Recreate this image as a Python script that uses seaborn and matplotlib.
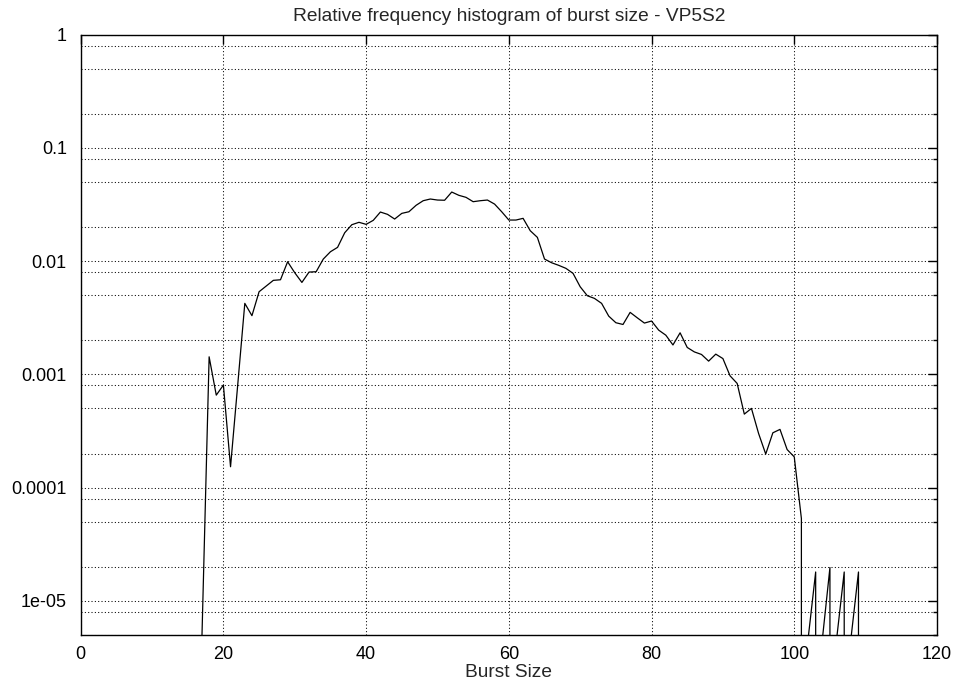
import matplotlib
matplotlib.use("Agg")
import matplotlib.pyplot as plt
import numpy as np
import pandas as pd
import seaborn as sns
from matplotlib.ticker import FixedLocator, FixedFormatter, LogLocator, NullFormatter, NullLocator

# ---------------- data ----------------
burst_size = list(range(17, 111))
rel_freq = [
    0.0,       # 17
    0.00143, 0.000656, 0.000805, 0.000153, 0.00080,           # 18-22
    0.00424, 0.00330, 0.00537, 0.00603, 0.00677,              # 23-27
    0.00685, 0.00988, 0.00790, 0.00649, 0.00801,              # 28-32
    0.00807, 0.01044, 0.01211, 0.01324, 0.01782,              # 33-37
    0.02098, 0.02203, 0.02114, 0.02293, 0.02715,              # 38-42
    0.02590, 0.02355, 0.02642, 0.02731, 0.03112,              # 43-47
    0.03418, 0.03538, 0.03465, 0.03450, 0.04077,              # 48-52
    0.03813, 0.03660, 0.03350, 0.03418, 0.03465,              # 53-57
    0.03192, 0.02731, 0.02307, 0.02307, 0.02388,              # 58-62
    0.01857, 0.01622, 0.01044, 0.00968, 0.00918,              # 63-67
    0.00864, 0.00780, 0.00594, 0.00495, 0.00469,              # 68-72
    0.00424, 0.00327, 0.00286, 0.00276, 0.00353,              # 73-77
    0.00316, 0.00284, 0.00296, 0.00246, 0.00222,              # 78-82
    0.00182, 0.00233, 0.00173, 0.00158, 0.00150,              # 83-87
    0.00131, 0.00151, 0.00138, 0.000972, 0.000832,            # 88-92
    0.000446, 0.000501, 0.000301, 0.000198, 0.000305,         # 93-97
    0.000327, 0.000217, 0.000187, 5.34e-05, 0.0,              # 98-102
    1.80e-05, 0.0, 1.97e-05, 0.0, 1.80e-05,                   # 103-107
    0.0, 1.80e-05, 0.0,                                       # 108-110
]

x_ticks = [0, 20, 40, 60, 80, 100, 120]
x_tick_labels = ["0", "20", "40", "60", "80", "100", "120"]
y_ticks = [1e-05, 1e-04, 1e-03, 1e-02, 1e-01, 1.0]
y_tick_labels = ["1e-05", "0.0001", "0.001", "0.01", "0.1", "1"]
y_minor_subs = [2.0, 5.0, 8.0]
x_range = (0, 120)
y_range = (5e-06, 1.0)

title_text = "Relative frequency histogram of burst size - VP5S2"
x_label = "Burst Size"

# ------------- gnuplot-like handling of empty bins on a log axis -------------
rows = []
seg = 0
for i, (x, y) in enumerate(zip(burst_size, rel_freq)):
    if y > 0:
        if i > 0 and rel_freq[i - 1] == 0:
            rows.append((burst_size[i - 1], y_range[0], seg))
        rows.append((x, y, seg))
    else:
        if i > 0 and rel_freq[i - 1] > 0:
            rows.append((burst_size[i - 1], y_range[0], seg))
            seg += 1
df = pd.DataFrame(rows, columns=["x", "y", "seg"])

# ---------------- style ----------------
sns.set_style("white")
plt.rcParams["font.family"] = ["Liberation Sans", "DejaVu Sans"]
plt.rcParams["font.size"] = 13

fig = plt.figure(figsize=(9.56, 6.85), dpi=100)
ax = fig.add_axes([0.0844, 0.0730, 0.8957, 0.8764])
ax.set_yscale("log")

sns.lineplot(data=df, x="x", y="y", units="seg", estimator=None, sort=False,
             color="black", linewidth=0.9, ax=ax, clip_on=True)

ax.set_xlim(*x_range)
ax.set_ylim(*y_range)

ax.xaxis.set_major_locator(FixedLocator(x_ticks))
ax.xaxis.set_major_formatter(FixedFormatter(x_tick_labels))
ax.xaxis.set_minor_locator(NullLocator())
ax.yaxis.set_major_locator(FixedLocator(y_ticks))
ax.yaxis.set_major_formatter(FixedFormatter(y_tick_labels))
ax.yaxis.set_minor_locator(LogLocator(base=10, subs=y_minor_subs))
ax.yaxis.set_minor_formatter(NullFormatter())

ax.tick_params(which="both", direction="in", top=True, right=True,
               color="black", labelcolor="black", labelsize=13)
ax.tick_params(which="major", length=6.5, width=1.0)
ax.tick_params(which="minor", length=3.2, width=1.0)
ax.tick_params(axis="y", which="major", pad=10)
ax.tick_params(axis="x", which="major", pad=8)

grid_kw = dict(color="black", linestyle=(0, (1, 2.2)), linewidth=0.75)
ax.grid(True, which="major", axis="both", **grid_kw)
ax.grid(True, which="minor", axis="y", **grid_kw)
ax.set_axisbelow(True)

for sp in ax.spines.values():
    sp.set_color("black")
    sp.set_linewidth(1.0)
    sp.set_zorder(3)

ax.set_xlabel(x_label, fontsize=13.8, labelpad=0.5)
ax.set_ylabel("")
ax.set_title(title_text, fontsize=13.8, pad=10)

fig.savefig("out.png", dpi=100)
